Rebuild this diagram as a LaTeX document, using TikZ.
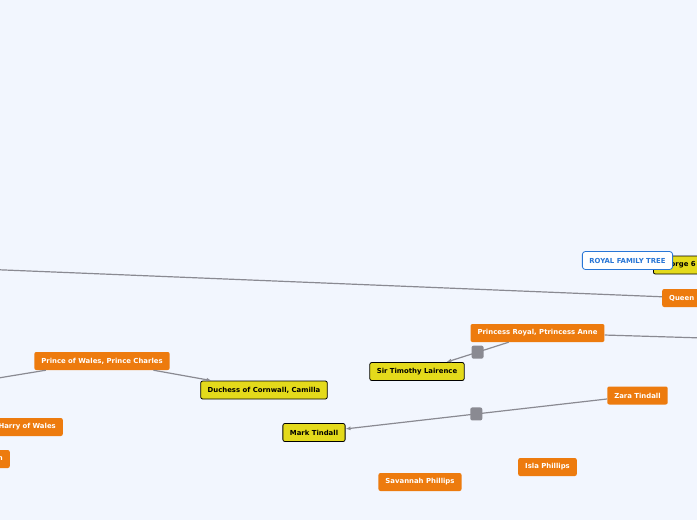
\documentclass[tikz,border=0pt]{standalone}
\usepackage{fontspec}
\setmainfont{DejaVu Sans}
\usepackage{xcolor}
\usepackage{tikz}
\usetikzlibrary{arrows.meta}
\definecolor{paper}{RGB}{242,246,254}
\definecolor{orange}{RGB}{237,123,14}
\definecolor{lemon}{RGB}{228,218,27}
\definecolor{wire}{RGB}{138,138,146}
\definecolor{blue}{RGB}{40,118,214}

\begin{document}
\begin{tikzpicture}[x=1pt,y=-1pt,>={Latex[length=5pt,width=4pt]},
  every node/.style={font=\fontsize{6.9}{8}\selectfont\bfseries,inner xsep=7pt,minimum height=18pt,rounded corners=2pt},
  orangebox/.style={fill=orange,text=white},
  yellowbox/.style={fill=lemon,draw=black,line width=0.8pt,text=black},
  titlebox/.style={fill=white,draw=blue,line width=0.8pt,text=blue,rounded corners=3pt},
  link/.style={draw=wire,line width=1.2pt},
  knot/.style={fill=wire,minimum width=12pt,minimum height=13pt,inner sep=0pt,rounded corners=2pt}]
\useasboundingbox (0,0) rectangle (697,520);
\clip (0,0) rectangle (697,520);
\fill[paper] (0,0) rectangle (697,520);
% off-canvas ends
\coordinate (leftend) at (-20,269);
\coordinate (charlesend) at (-20,381);
\coordinate (anneend) at (720,338.5);
% people
\node[yellowbox,anchor=west,text width=46pt,align=left] (george) at (653,265) {George 6};
\node[titlebox] (title) at (627.5,260.5) {ROYAL FAMILY TREE};
\node[orangebox,anchor=west,text width=46pt,align=left] (queen) at (662,298) {Queen};
\node[orangebox] (anne) at (537.5,333) {Princess Royal, Ptrincess Anne};
\node[yellowbox] (timothy) at (417,371.5) {Sir Timothy Lairence};
\node[orangebox] (charles) at (102,361) {Prince of Wales, Prince Charles};
\node[yellowbox] (camilla) at (264,390) {Duchess of Cornwall, Camilla};
\node[orangebox,anchor=east,text width=76pt,align=right] (harry) at (63,427) {Harry of Wales};
\node[orangebox,anchor=east,text width=46pt,align=right] (william) at (10,459) {n};
\node[yellowbox] (mark) at (314,432.5) {Mark Tindall};
\node[orangebox] (zara) at (637.5,395.5) {Zara Tindall};
\node[orangebox] (savannah) at (420,482) {Savannah Phillips};
\node[orangebox] (isla) at (547.5,467) {Isla Phillips};
% connectors
\draw[link] (leftend) -- (queen);
\draw[link] (anne) -- (anneend);
\draw[link] (charles) -- (charlesend);
\draw[link,->] (charles) -- (camilla);
\draw[link,->] (anne) -- node[knot]{} (timothy);
\draw[link,->] (zara) -- node[knot]{} (mark);
\end{tikzpicture}
\end{document}
